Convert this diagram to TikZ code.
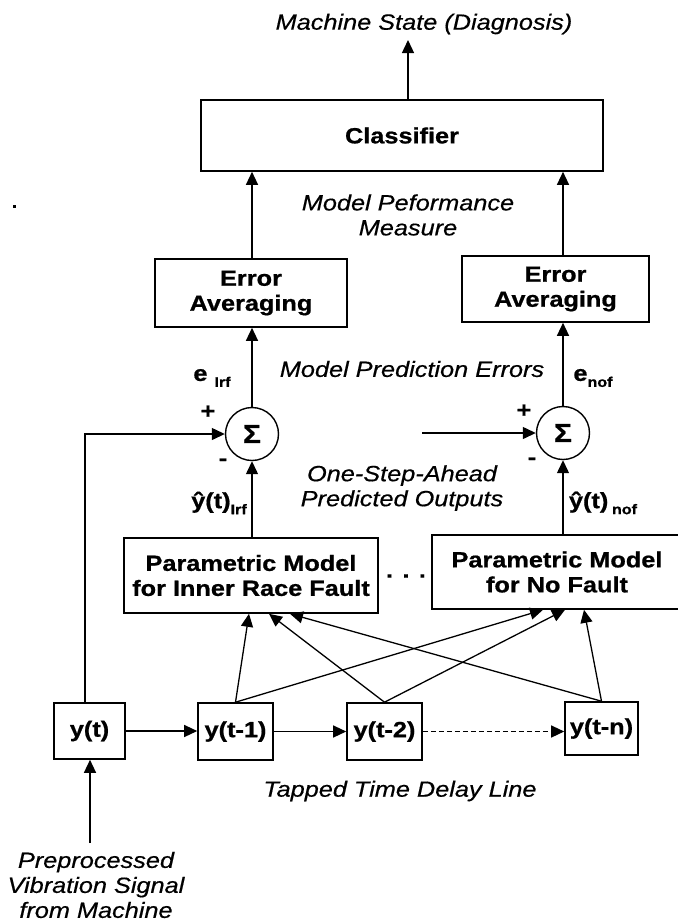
\documentclass[tikz,border=0pt]{standalone}
\usepackage{fontspec}
\setmainfont{Liberation Sans}[FakeStretch=1.15,
  BoldFeatures={FakeBold=0.8}, ItalicFeatures={FakeBold=0.5}]
\usetikzlibrary{arrows.meta,calc}
\newcommand{\subtxt}[1]{\raisebox{-6pt}{\fontsize{14}{16}\selectfont #1}}

\begin{document}
\begin{tikzpicture}[x=1pt,y=-1pt,
  block/.style={draw, line width=1.6pt, inner sep=0pt, align=center,
    font=\fontsize{22}{25}\selectfont\bfseries},
  itext/.style={align=center, inner sep=0pt,
    font=\fontsize{22}{25}\selectfont\itshape},
  sym/.style={inner sep=0pt, font=\fontsize{22}{25}\selectfont\bfseries},
  summer/.style={draw, circle, line width=1.4pt, minimum size=53pt,
    inner sep=0pt, font=\fontsize{26}{30}\selectfont\bfseries},
  wire/.style={line width=1.3pt},
  flow/.style={wire, -{Triangle[length=13pt,width=12pt]}},
  dashflow/.style={flow, dash pattern=on 5pt off 3pt},
]

\useasboundingbox (0,0) rectangle (678,922);
\fill[white] (0,0) rectangle (678,922);

% output and classifier
\node[itext] (ms) at (424,24) {Machine State (Diagnosis)};
\node[block, minimum width=402pt, minimum height=71pt] (cls) at (402,135.5) {Classifier};
\node[itext] (perf) at (408,215) {Model Peformance\\Measure};

% error averaging stages
\node[block, minimum width=192pt, minimum height=68pt] (eaL) at (251,293) {Error\\Averaging};
\node[block, minimum width=187pt, minimum height=66pt] (eaR) at (555.5,289) {Error\\Averaging};
\node[itext] (perr) at (412,369) {Model Prediction Errors};
\node[sym] (eL) at (212,378) {e \subtxt{Irf}};
\node[sym] (eR) at (593,378) {e\subtxt{nof}};

% summing junctions
\node[summer] (sumL) at (252,434) {Σ};
\node[summer] (sumR) at (563,433) {Σ};
\node[sym] (pL) at (208,412) {+};
\node[sym] (mL) at (223,462) {-};
\node[sym] (pR) at (524,411) {+};
\node[sym] (mR) at (532,461) {-};

% predicted outputs and models
\node[itext] (osa) at (402,488) {One-Step-Ahead\\Predicted Outputs};
\node[sym] (yhL) at (219,503) {ŷ(t)\subtxt{Irf}};
\node[sym] (yhR) at (603,503) {ŷ(t)\,\subtxt{nof}};
\node[block, minimum width=254pt, minimum height=75pt] (pmL) at (251,575.5) {Parametric Model\\for Inner Race Fault};
\node[block, minimum width=250pt, minimum height=74pt] (pmR) at (557,572) {Parametric Model\\for No Fault};
\node[sym] (dots) at (406,576) {. . .};

% tapped delay line
\node[block, minimum width=71pt, minimum height=56pt] (y0) at (89.5,731) {y(t)};
\node[block, minimum width=75pt, minimum height=57pt] (y1) at (235.5,731.5) {y(t-1)};
\node[block, minimum width=75pt, minimum height=57pt] (y2) at (384.5,731.5) {y(t-2)};
\node[block, minimum width=73pt, minimum height=53pt] (yn) at (601.5,728.5) {y(t-n)};
\node[itext] (tdl) at (400,791) {Tapped Time Delay Line};
\node[itext] (src) at (96,885) {Preprocessed\\Vibration Signal\\from Machine};

% connectors
\coordinate (outTip) at (408,40);
\draw[flow] (cls.north -| outTip) -- (outTip);
\draw[flow] (eaL.north -| sumL) -- (sumL |- cls.south);
\draw[flow] (eaR.north -| sumR) -- (sumR |- cls.south);
\draw[flow] (sumL.north) -- (sumL |- eaL.south);
\draw[flow] (sumR.north) -- (sumR |- eaR.south);
\draw[flow] (pmL.north -| sumL) -- (sumL.south);
\draw[flow] (pmR.north -| sumR) -- (sumR.south);

\coordinate (fb) at (85,0);
\draw[flow] (y0.north -| fb) |- (sumL.west);
\coordinate (inR) at (422,433);
\draw[flow] (inR) -- (sumR.west);

\draw[flow] (y0.east) -- (y0.east -| y1.west);
\draw[flow] (y1.east) -- (y1.east -| y2.west);
\draw[dashflow] (y2.east) -- (y2.east -| yn.west);

\coordinate (srcTop) at (90,843);
\draw[flow] (srcTop) -- (srcTop |- y0.south);

% taps feeding both models
\foreach \s/\a/\b in {y1/-2/-14, y2/18/8, yn/39/27}{
  \draw[flow] (\s.north) -- ($(pmL.south)+(\a,0)$);
  \draw[flow] (\s.north) -- ($(pmR.south)+(\b,0)$);
}

% speck on the page
\fill (13,205) rectangle (16,208);
\end{tikzpicture}
\end{document}
